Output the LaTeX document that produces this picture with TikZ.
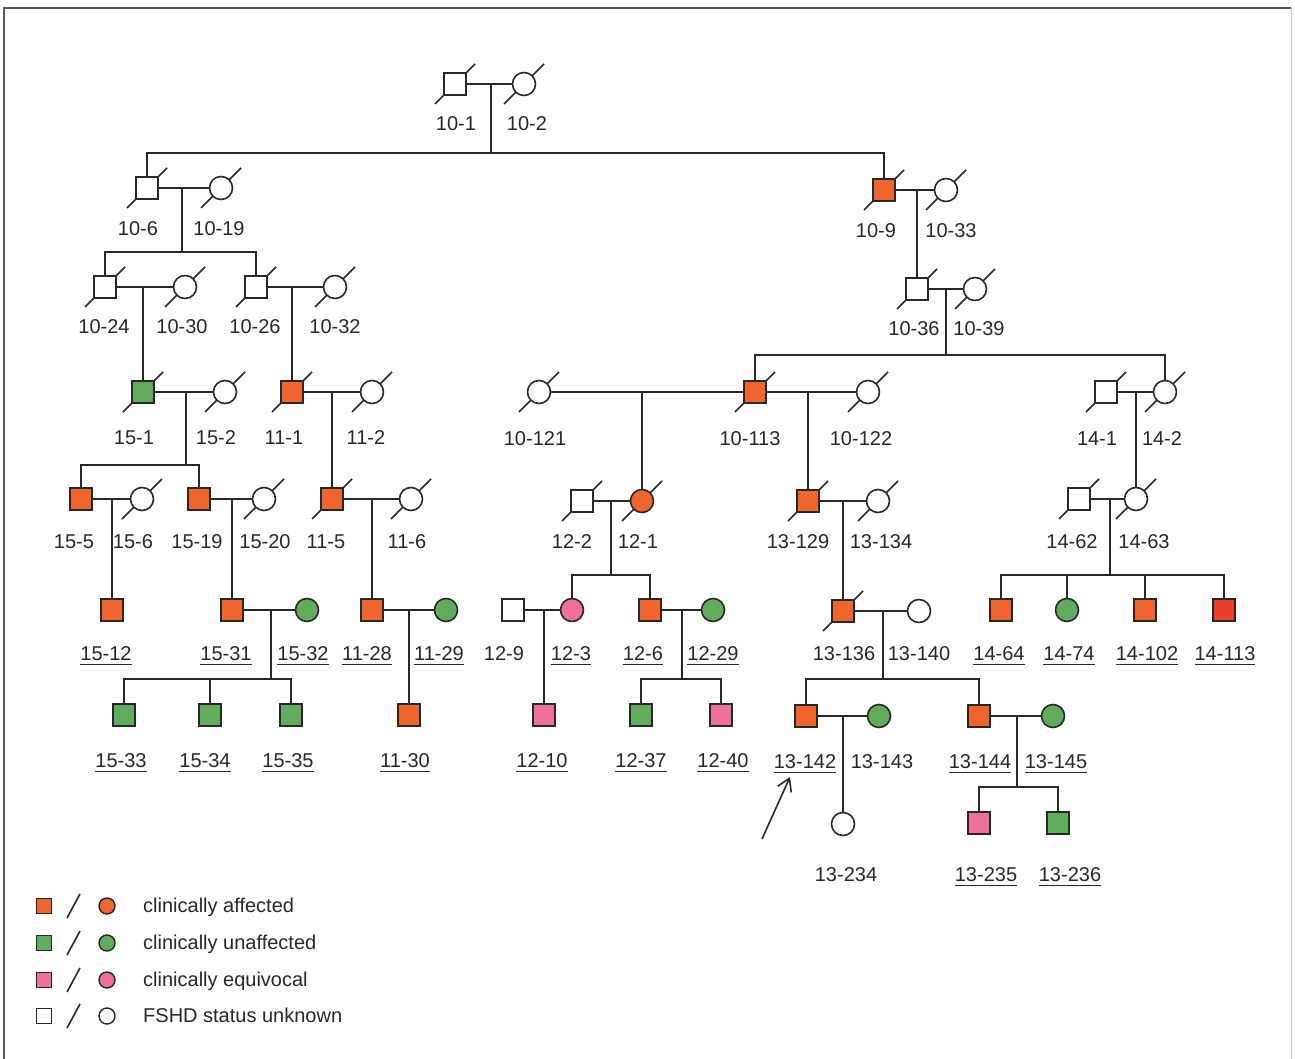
\documentclass[tikz,border=0pt]{standalone}
\usepackage{fontspec}
\setmainfont{Liberation Sans}
\usetikzlibrary{arrows.meta,calc}
\pgfdeclarelayer{bottom}
\pgfdeclarelayer{slashes}
\pgfsetlayers{bottom,slashes,main}
\definecolor{lc}{RGB}{40,40,40}
\definecolor{aff}{RGB}{240,100,45}
\definecolor{affr}{RGB}{232,62,42}
\definecolor{unaff}{RGB}{96,172,90}
\definecolor{equiv}{RGB}{238,112,150}
\newcommand\ulab[1]{\setbox0\hbox{#1}\rlap{\smash{\rule[-4pt]{\wd0}{1.3pt}}}\box0}
\newcommand\deadmark[1]{\begin{pgfonlayer}{slashes}\draw[slashline] ($(#1)+(-20,20)$) -- ($(#1)+(20,-20)$);\end{pgfonlayer}}
\tikzset{
 sq/.style={rectangle,draw=lc,line width=1.6pt,minimum size=22pt,inner sep=0pt,fill=white},
 ci/.style={circle,draw=lc,line width=1.6pt,minimum size=23pt,inner sep=0pt,fill=white},
 rel/.style={draw=lc,line width=1.6pt},
 slashline/.style={draw=lc,line width=1.6pt},
 lab/.style={inner sep=0pt,text=lc},
 legsq/.style={sq,minimum size=15pt,line width=1.4pt},
 legci/.style={ci,minimum size=16pt,line width=1.4pt},
}
\begin{document}
\begin{tikzpicture}[x=1pt,y=-1pt,font=\fontsize{20}{24}\selectfont]
\useasboundingbox (0,0) rectangle (1295,1059);
\begin{pgfonlayer}{bottom}
\fill[white] (0,0) rectangle (1295,1059);
\end{pgfonlayer}
% frame
\draw[draw=black!65,line width=1.6pt] (4,1059) -- (4,8) -- (1291,8);
\draw[draw=black!20,line width=1pt] (1291,8) -- (1291,1059);

% ---------- persons ----------
\node[sq] (p10-1) at (455,84) {};
\node[ci] (p10-2) at (524,84) {};

\node[sq] (p10-6) at (147,188) {};
\node[ci] (p10-19) at (221,188) {};
\node[sq,fill=aff] (p10-9) at (884,190) {};
\node[ci] (p10-33) at (946,190) {};

\node[sq] (p10-24) at (105,287) {};
\node[ci] (p10-30) at (185,287) {};
\node[sq] (p10-26) at (256,287) {};
\node[ci] (p10-32) at (335,287) {};
\node[sq] (p10-36) at (917,289) {};
\node[ci] (p10-39) at (975,289) {};

\node[sq,fill=unaff] (p15-1) at (143,392) {};
\node[ci] (p15-2) at (225,392) {};
\node[sq,fill=aff] (p11-1) at (292,392) {};
\node[ci] (p11-2) at (372,392) {};
\node[ci] (p10-121) at (539,392) {};
\node[sq,fill=aff] (p10-113) at (755,392) {};
\node[ci] (p10-122) at (868,392) {};
\node[sq] (p14-1) at (1106,392) {};
\node[ci] (p14-2) at (1165,392) {};

\node[sq,fill=aff] (p15-5) at (81,499) {};
\node[ci] (p15-6) at (142,499) {};
\node[sq,fill=aff] (p15-19) at (199,499) {};
\node[ci] (p15-20) at (264,499) {};
\node[sq,fill=aff] (p11-5) at (332,499) {};
\node[ci] (p11-6) at (411,499) {};
\node[sq] (p12-2) at (582,501) {};
\node[ci,fill=aff] (p12-1) at (642,501) {};
\node[sq,fill=aff] (p13-129) at (808,501) {};
\node[ci] (p13-134) at (878,501) {};
\node[sq] (p14-62) at (1079,499) {};
\node[ci] (p14-63) at (1136,499) {};

\node[sq,fill=aff] (p15-12) at (112,610) {};
\node[sq,fill=aff] (p15-31) at (232,610) {};
\node[ci,fill=unaff] (p15-32) at (307,610) {};
\node[sq,fill=aff] (p11-28) at (372,610) {};
\node[ci,fill=unaff] (p11-29) at (446,610) {};
\node[sq] (p12-9) at (513,610) {};
\node[ci,fill=equiv] (p12-3) at (572,610) {};
\node[sq,fill=aff] (p12-6) at (650,610) {};
\node[ci,fill=unaff] (p12-29) at (713,610) {};
\node[sq,fill=aff] (p13-136) at (843,611) {};
\node[ci] (p13-140) at (919,611) {};
\node[sq,fill=aff] (p14-64) at (1001,610) {};
\node[ci,fill=unaff] (p14-74) at (1067,610) {};
\node[sq,fill=aff] (p14-102) at (1145,610) {};
\node[sq,fill=affr] (p14-113) at (1224,610) {};

\node[sq,fill=unaff] (p15-33) at (124,715) {};
\node[sq,fill=unaff] (p15-34) at (210,715) {};
\node[sq,fill=unaff] (p15-35) at (291,715) {};
\node[sq,fill=aff] (p11-30) at (409,715) {};
\node[sq,fill=equiv] (p12-10) at (544,715) {};
\node[sq,fill=unaff] (p12-37) at (641,715) {};
\node[sq,fill=equiv] (p12-40) at (721,715) {};
\node[sq,fill=aff] (p13-142) at (806,716) {};
\node[ci,fill=unaff] (p13-143) at (879,716) {};
\node[sq,fill=aff] (p13-144) at (979,716) {};
\node[ci,fill=unaff] (p13-145) at (1053,716) {};

\node[ci] (p13-234) at (843,824) {};
\node[sq,fill=equiv] (p13-235) at (979,823) {};
\node[sq,fill=unaff] (p13-236) at (1058,823) {};

% deceased marks
\foreach \n in {p10-1,p10-2,p10-6,p10-19,p10-9,p10-33,p10-24,p10-30,p10-26,p10-32,p10-36,p10-39,p15-1,p15-2,p11-1,p11-2,p10-121,p10-113,p10-122,p14-1,p14-2,p15-6,p15-20,p11-5,p11-6,p12-2,p12-1,p13-129,p13-134,p14-62,p14-63,p13-136}{\deadmark{\n}}

% ---------- relationships ----------
\coordinate (m1) at (491,84);  \coordinate (s1) at (491,153);
\draw[rel] (p10-1) -- (p10-2);
\draw[rel] (m1) -- (s1);
\draw[rel] (p10-6.north) |- (s1) -| (p10-9.north);

\coordinate (m2) at (182,188); \coordinate (s2) at (182,252);
\draw[rel] (p10-6) -- (p10-19);
\draw[rel] (m2) -- (s2);
\draw[rel] (p10-24.north) |- (s2) -| (p10-26.north);

\coordinate (m3) at (917,190);
\draw[rel] (p10-9) -- (p10-33);
\draw[rel] (m3) -- (m3 |- p10-36.north);

\coordinate (m4) at (143,287);
\draw[rel] (p10-24) -- (p10-30);
\draw[rel] (m4) -- (m4 |- p15-1.north);

\coordinate (m5) at (292,287);
\draw[rel] (p10-26) -- (p10-32);
\draw[rel] (m5) -- (m5 |- p11-1.north);

\coordinate (m6) at (946,289); \coordinate (s6) at (946,355);
\draw[rel] (p10-36) -- (p10-39);
\draw[rel] (m6) -- (s6);
\draw[rel] (p10-113.north) |- (s6) -| (p14-2.north);

\coordinate (m7) at (186,392); \coordinate (s7) at (186,465);
\draw[rel] (p15-1) -- (p15-2);
\draw[rel] (m7) -- (s7);
\draw[rel] (p15-5.north) |- (s7) -| (p15-19.north);

\coordinate (m8) at (332,392);
\draw[rel] (p11-1) -- (p11-2);
\draw[rel] (m8) -- (m8 |- p11-5.north);

\coordinate (m9) at (642,392);
\coordinate (m10) at (808,392);
\draw[rel] (p10-121) -- (p10-113);
\draw[rel] (p10-113) -- (p10-122);
\draw[rel] (m9) -- (m9 |- p12-1.north);
\draw[rel] (m10) -- (m10 |- p13-129.north);

\coordinate (m11) at (1136,392);
\draw[rel] (p14-1) -- (p14-2);
\draw[rel] (m11) -- (m11 |- p14-63.north);

\coordinate (m12) at (112,499);
\draw[rel] (p15-5) -- (p15-6);
\draw[rel] (m12) -- (m12 |- p15-12.north);

\coordinate (m13) at (232,499);
\draw[rel] (p15-19) -- (p15-20);
\draw[rel] (m13) -- (m13 |- p15-31.north);

\coordinate (m14) at (372,499);
\draw[rel] (p11-5) -- (p11-6);
\draw[rel] (m14) -- (m14 |- p11-28.north);

\coordinate (m15) at (611,501); \coordinate (s15) at (611,575);
\draw[rel] (p12-2) -- (p12-1);
\draw[rel] (m15) -- (s15);
\draw[rel] (p12-3.north) |- (s15) -| (p12-6.north);

\coordinate (m16) at (843,501);
\draw[rel] (p13-129) -- (p13-134);
\draw[rel] (m16) -- (m16 |- p13-136.north);

\coordinate (m17) at (1110,499); \coordinate (s17) at (1110,575);
\draw[rel] (p14-62) -- (p14-63);
\draw[rel] (m17) -- (s17);
\draw[rel] (p14-64.north) |- (s17) -| (p14-113.north);
\draw[rel] (p14-74.north) -- (p14-74.north |- s17);
\draw[rel] (p14-102.north) -- (p14-102.north |- s17);

\coordinate (m18) at (271,610); \coordinate (s18) at (271,679);
\draw[rel] (p15-31) -- (p15-32);
\draw[rel] (m18) -- (s18);
\draw[rel] (p15-33.north) |- (s18) -| (p15-35.north);
\draw[rel] (p15-34.north) -- (p15-34.north |- s18);

\coordinate (m19) at (409,610);
\draw[rel] (p11-28) -- (p11-29);
\draw[rel] (m19) -- (m19 |- p11-30.north);

\coordinate (m20) at (544,610);
\draw[rel] (p12-9) -- (p12-3);
\draw[rel] (m20) -- (m20 |- p12-10.north);

\coordinate (m21) at (682,610); \coordinate (s21) at (682,679);
\draw[rel] (p12-6) -- (p12-29);
\draw[rel] (m21) -- (s21);
\draw[rel] (p12-37.north) |- (s21) -| (p12-40.north);

\coordinate (m22) at (883,611); \coordinate (s22) at (883,679);
\draw[rel] (p13-136) -- (p13-140);
\draw[rel] (m22) -- (s22);
\draw[rel] (p13-142.north) |- (s22) -| (p13-144.north);

\coordinate (m23) at (843,716);
\draw[rel] (p13-142) -- (p13-143);
\draw[rel] (m23) -- (m23 |- p13-234.north);

\coordinate (m24) at (1017,716); \coordinate (s24) at (1017,787);
\draw[rel] (p13-144) -- (p13-145);
\draw[rel] (m24) -- (s24);
\draw[rel] (p13-235.north) |- (s24) -| (p13-236.north);

% proband arrow
\coordinate (arrS) at (762,839); \coordinate (arrE) at (790,777);
\draw[rel,-{Straight Barb[length=12pt,width=15pt]}] (arrS) -- (arrE);

% ---------- labels ----------
\node[lab] (l10-1) at (456,124) {10-1};
\node[lab] (l10-2) at (527,124) {10-2};
\node[lab] (l10-6) at (138,229) {10-6};
\node[lab] (l10-19) at (219,229) {10-19};
\node[lab] (l10-9) at (876,231) {10-9};
\node[lab] (l10-33) at (951,231) {10-33};
\node[lab] (l10-24) at (104,327) {10-24};
\node[lab] (l10-30) at (182,327) {10-30};
\node[lab] (l10-26) at (255,327) {10-26};
\node[lab] (l10-32) at (335,327) {10-32};
\node[lab] (l10-36) at (914,329) {10-36};
\node[lab] (l10-39) at (979,329) {10-39};
\node[lab] (l15-1) at (134,438) {15-1};
\node[lab] (l15-2) at (216,438) {15-2};
\node[lab] (l11-1) at (284,438) {11-1};
\node[lab] (l11-2) at (366,438) {11-2};
\node[lab] (l10-121) at (535,439) {10-121};
\node[lab] (l10-113) at (750,439) {10-113};
\node[lab] (l10-122) at (861,439) {10-122};
\node[lab] (l14-1) at (1097,439) {14-1};
\node[lab] (l14-2) at (1162,439) {14-2};
\node[lab] (l15-5) at (74,542) {15-5};
\node[lab] (l15-6) at (133,542) {15-6};
\node[lab] (l15-19) at (197,542) {15-19};
\node[lab] (l15-20) at (265,542) {15-20};
\node[lab] (l11-5) at (326,542) {11-5};
\node[lab] (l11-6) at (407,542) {11-6};
\node[lab] (l12-2) at (572,542) {12-2};
\node[lab] (l12-1) at (638,542) {12-1};
\node[lab] (l13-129) at (798,542) {13-129};
\node[lab] (l13-134) at (881,542) {13-134};
\node[lab] (l14-62) at (1072,542) {14-62};
\node[lab] (l14-63) at (1144,542) {14-63};
\node[lab] (l15-12) at (106,654) {\ulab{15-12}};
\node[lab] (l15-31) at (226,654) {\ulab{15-31}};
\node[lab] (l15-32) at (303,654) {\ulab{15-32}};
\node[lab] (l11-28) at (367,654) {\ulab{11-28}};
\node[lab] (l11-29) at (439,654) {\ulab{11-29}};
\node[lab] (l12-9) at (504,654) {12-9};
\node[lab] (l12-3) at (571,654) {\ulab{12-3}};
\node[lab] (l12-6) at (643,654) {\ulab{12-6}};
\node[lab] (l12-29) at (713,654) {\ulab{12-29}};
\node[lab] (l13-136) at (844,654) {13-136};
\node[lab] (l13-140) at (919,654) {13-140};
\node[lab] (l14-64) at (999,654) {\ulab{14-64}};
\node[lab] (l14-74) at (1069,654) {\ulab{14-74}};
\node[lab] (l14-102) at (1147,654) {\ulab{14-102}};
\node[lab] (l14-113) at (1225,654) {\ulab{14-113}};
\node[lab] (l15-33) at (121,761) {\ulab{15-33}};
\node[lab] (l15-34) at (205,761) {\ulab{15-34}};
\node[lab] (l15-35) at (288,761) {\ulab{15-35}};
\node[lab] (l11-30) at (405,761) {\ulab{11-30}};
\node[lab] (l12-10) at (542,761) {\ulab{12-10}};
\node[lab] (l12-37) at (641,761) {\ulab{12-37}};
\node[lab] (l12-40) at (723,761) {\ulab{12-40}};
\node[lab] (l13-142) at (805,762) {\ulab{13-142}};
\node[lab] (l13-143) at (882,762) {13-143};
\node[lab] (l13-144) at (980,762) {\ulab{13-144}};
\node[lab] (l13-145) at (1056,762) {\ulab{13-145}};
\node[lab] (l13-234) at (846,875) {13-234};
\node[lab] (l13-235) at (986,875) {\ulab{13-235}};
\node[lab] (l13-236) at (1070,875) {\ulab{13-236}};

% ---------- legend ----------
\node[legsq,fill=aff] (k1s) at (44,906) {};
\coordinate (k1a) at (67,918); \coordinate (k1b) at (80,894);
\draw[slashline] (k1a) -- (k1b);
\node[legci,fill=aff] (k1c) at (107,906) {};
\node[lab,anchor=base west] (k1t) at (143,912) {clinically affected};

\node[legsq,fill=unaff] (k2s) at (44,943) {};
\coordinate (k2a) at (67,955); \coordinate (k2b) at (80,931);
\draw[slashline] (k2a) -- (k2b);
\node[legci,fill=unaff] (k2c) at (107,943) {};
\node[lab,anchor=base west] (k2t) at (143,949) {clinically unaffected};

\node[legsq,fill=equiv] (k3s) at (44,980) {};
\coordinate (k3a) at (67,992); \coordinate (k3b) at (80,968);
\draw[slashline] (k3a) -- (k3b);
\node[legci,fill=equiv] (k3c) at (107,980) {};
\node[lab,anchor=base west] (k3t) at (143,986) {clinically equivocal};

\node[legsq] (k4s) at (44,1016) {};
\coordinate (k4a) at (67,1028); \coordinate (k4b) at (80,1004);
\draw[slashline] (k4a) -- (k4b);
\node[legci] (k4c) at (107,1016) {};
\node[lab,anchor=base west] (k4t) at (143,1022) {FSHD status unknown};
\end{tikzpicture}
\end{document}
